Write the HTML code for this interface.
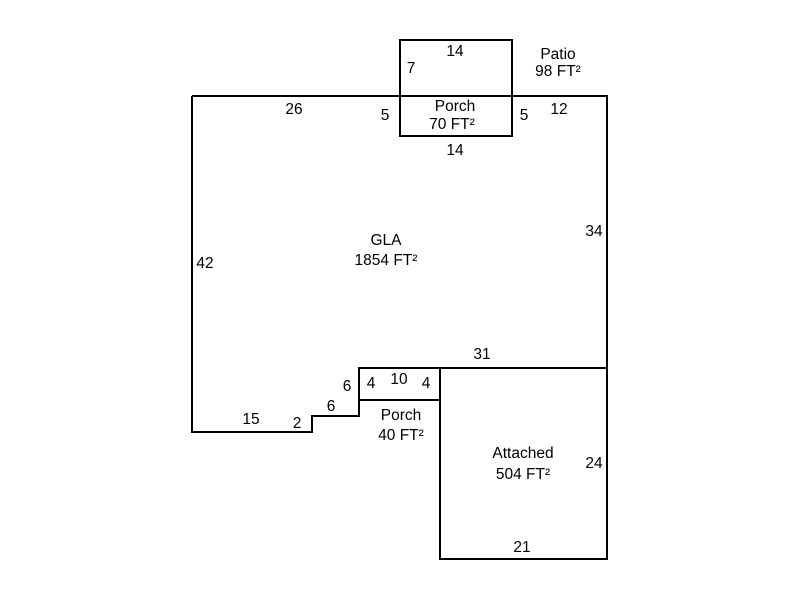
<!DOCTYPE html>
<html><head><style>body{margin:0;background:#fff}</style></head><body>
<svg width="800" height="600" xmlns="http://www.w3.org/2000/svg" font-family="Liberation Sans, Arial, sans-serif" font-size="15.5" fill="#000">
<rect width="800" height="600" fill="#fff"/>
<g stroke="#000" stroke-width="2" fill="none">
<polyline points="192,96 607,96 607,368 359,368 359,416 312,416 312,432 192,432 192,96"/>
<rect x="400" y="40" width="112" height="96"/>
<rect x="440" y="368" width="167" height="191"/>
<line x1="359" y1="400" x2="440" y2="400"/>
</g>
<g text-anchor="middle">
<text x="455" y="56">14</text>
<text x="411" y="73">7</text>
<text x="558" y="59">Patio</text>
<text x="558" y="76">98 FT²</text>
<text x="294" y="114">26</text>
<text x="385" y="120">5</text>
<text x="455" y="111">Porch</text>
<text x="452" y="129">70 FT²</text>
<text x="524" y="120">5</text>
<text x="559" y="114">12</text>
<text x="455" y="155">14</text>
<text x="594" y="236">34</text>
<text x="386" y="245">GLA</text>
<text x="386" y="265">1854 FT²</text>
<text x="205" y="268">42</text>
<text x="482" y="359">31</text>
<text x="347" y="391">6</text>
<text x="371" y="388">4</text>
<text x="399" y="384">10</text>
<text x="426" y="388">4</text>
<text x="331" y="411">6</text>
<text x="401" y="420">Porch</text>
<text x="401" y="440">40 FT²</text>
<text x="251" y="424">15</text>
<text x="297" y="428">2</text>
<text x="523" y="458">Attached</text>
<text x="523" y="479">504 FT²</text>
<text x="594" y="468">24</text>
<text x="522" y="552">21</text>
</g>
</svg>
</body></html>
